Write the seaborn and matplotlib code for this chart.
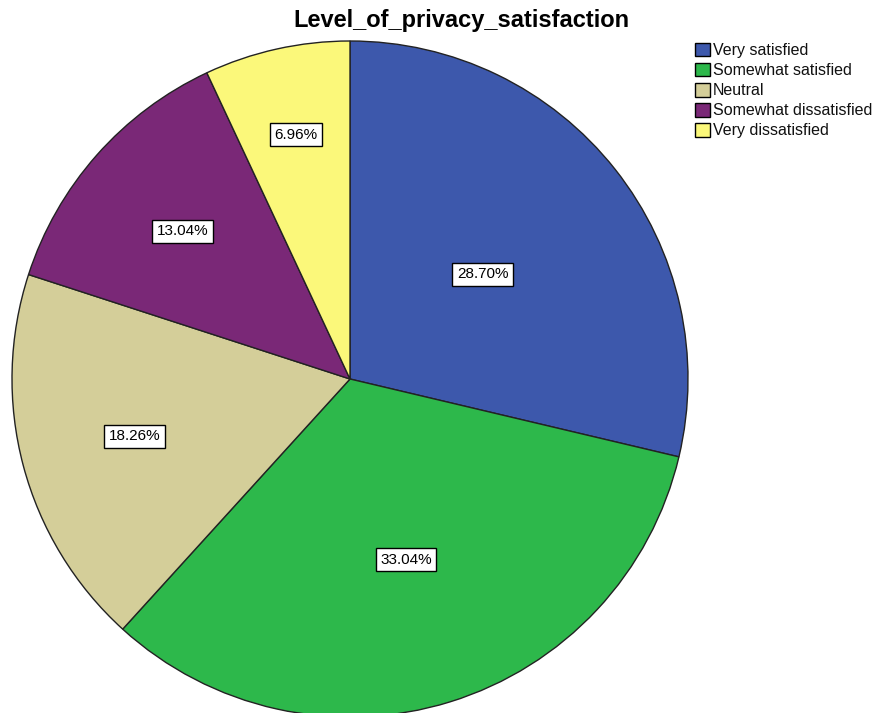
import numpy as np
import matplotlib
matplotlib.use("Agg")
import matplotlib.pyplot as plt
import seaborn as sns
from matplotlib.patches import Patch

categories = ["Very satisfied", "Somewhat satisfied", "Neutral",
              "Somewhat dissatisfied", "Very dissatisfied"]
percentages = [28.70, 33.04, 18.26, 13.04, 6.96]
slice_colors = ["#3D58AC", "#2DB84B", "#D4CE99", "#7A2877", "#FBF87A"]
title = "Level_of_privacy_satisfaction"

sns.set_style("white")
plt.rcParams["font.family"] = ["Liberation Sans", "DejaVu Sans"]

palette = sns.color_palette(slice_colors)

fig = plt.figure(figsize=(8.78, 7.13), dpi=100)
ax = fig.add_axes([0, 0, 1, 1])

wedges, texts, autotexts = ax.pie(
    percentages,
    colors=palette,
    startangle=90,
    counterclock=False,
    radius=1.0,
    autopct=lambda p: f"{p:.2f}%",
    wedgeprops=dict(edgecolor="#222222", linewidth=1.0),
    textprops=dict(fontsize=11, color="black"),
)

# radial placement of each percentage box within its slice
label_radii = [0.50, 0.56, 0.66, 0.66, 0.74]
for w, t, r in zip(wedges, autotexts, label_radii):
    mid = np.deg2rad((w.theta1 + w.theta2) / 2)
    t.set_position((r * np.cos(mid), r * np.sin(mid)))
    t.set_bbox(dict(facecolor="white", edgecolor="black", linewidth=1.0,
                    boxstyle="square,pad=0.3"))

# place the pie: centre at (350, 379) px, radius 338 px
scale = 338.0
ax.set_xlim(-350 / scale, (878 - 350) / scale)
ax.set_ylim(-(713 - 379) / scale, 379 / scale)
ax.set_aspect("auto")
ax.axis("off")

fig.text(461 / 878, 1 - 21 / 713, title, ha="center", va="center",
         fontsize=17, fontweight="bold", color="black")

handles = [Patch(facecolor=c, edgecolor="black", linewidth=1.0) for c in palette]
fig.legend(handles, categories, loc="upper left",
           bbox_to_anchor=(695 / 878, 1 - 43 / 713), frameon=False,
           fontsize=11.5, handlelength=0.92, handleheight=0.92,
           handletextpad=0.2, labelspacing=0.3, borderaxespad=0,
           borderpad=0, labelcolor="#111111")

fig.savefig("out.png", dpi=100)
